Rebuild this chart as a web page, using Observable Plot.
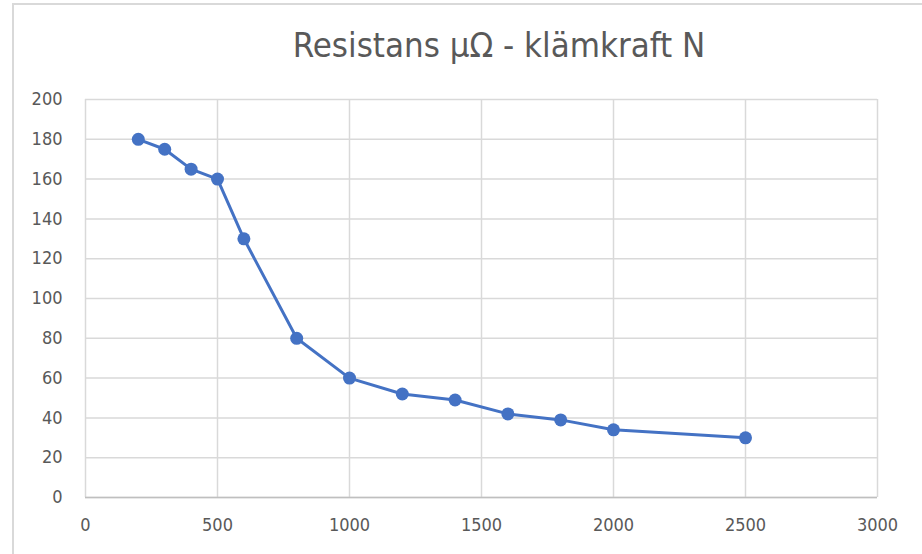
<!DOCTYPE html>
<html>
<head>
<meta charset="utf-8">
<script src="https://cdn.jsdelivr.net/npm/d3@7"></script>
<script src="https://cdn.jsdelivr.net/npm/@observablehq/plot@0.6"></script>
<style>
  html, body { margin: 0; padding: 0; background: #fff; }
  #frame { position: relative; width: 922px; height: 554px; overflow: hidden; }
  #border { position: absolute; left: 12px; top: 3px; width: 920px; height: 560px; border-top: 2px solid #d9d9d9; border-left: 2px solid #d9d9d9; }
  #title { position: absolute; left: 0; top: 24px; width: 998px; text-align: center; font-family: "DejaVu Sans Condensed", "Liberation Sans Narrow", sans-serif; font-stretch: condensed; font-size: 34.5px; line-height: 42px; color: #595959; }
  #chart { position: absolute; left: -2px; top: 78px; }
  #chart svg { background: transparent !important; }
  #chart svg text { font-family: "DejaVu Sans Condensed", "Liberation Sans Narrow", sans-serif !important; font-stretch: condensed; font-size: 18px !important; }
</style>
</head>
<body>
<div id="frame">
  <div id="border"></div>
  <div id="title">Resistans μΩ - klämkraft N</div>
  <div id="chart"></div>
</div>
<script>
const force = [200, 300, 400, 500, 600, 800, 1000, 1200, 1400, 1600, 1800, 2000, 2500];
const resistance = [180, 175, 165, 160, 130, 80, 60, 52, 49, 42, 39, 34, 30];
const xTicks = [0, 500, 1000, 1500, 2000, 2500, 3000];
const yTicks = [0, 20, 40, 60, 80, 100, 120, 140, 160, 180, 200];

const data = force.map((f, i) => ({force: f, r: resistance[i]}));
const blue = "#4472C4";

const plot = Plot.plot({
  width: 922,
  height: 476,
  marginTop: 21,
  marginBottom: 57,
  marginLeft: 87,
  marginRight: 43,
  style: {fontSize: "18px", color: "#595959", background: "transparent"},
  x: {domain: [0, 3000], ticks: xTicks, label: null},
  y: {domain: [0, 200], ticks: yTicks, label: null},
  marks: [
    Plot.gridX(xTicks, {stroke: "#d9d9d9", strokeOpacity: 1, strokeWidth: 1.5}),
    Plot.gridY(yTicks, {stroke: "#d9d9d9", strokeOpacity: 1, strokeWidth: 1.5}),
    Plot.ruleY([0], {stroke: "#bfbfbf", strokeWidth: 1.5}),
    Plot.axisX(xTicks, {tickSize: 0, tickPadding: 21, fill: "#595959", tickFormat: d => String(d)}),
    Plot.axisY(yTicks, {tickSize: 0, tickPadding: 23, fill: "#595959", tickFormat: d => String(d)}),
    Plot.line(data, {x: "force", y: "r", stroke: blue, strokeWidth: 3}),
    Plot.dot(data, {x: "force", y: "r", fill: blue, r: 6.5})
  ]
});
document.getElementById("chart").appendChild(plot);
</script>
</body>
</html>
